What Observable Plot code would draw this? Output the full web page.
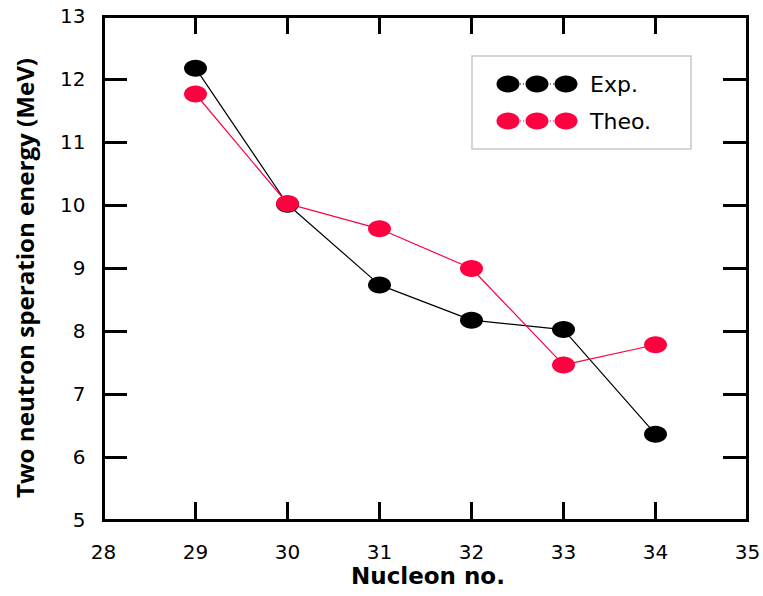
<!DOCTYPE html>
<html><head><meta charset="utf-8">
<script src="https://cdn.jsdelivr.net/npm/d3@7"></script>
<script src="https://cdn.jsdelivr.net/npm/@observablehq/plot@0.6"></script>
<style>body{margin:0;background:#fff} #chart{width:763px;height:596px}</style>
</head><body><div id="chart"></div>
<script>
const nucleon = [29, 30, 31, 32, 33, 34];
const expValues = [12.18, 10.02, 8.74, 8.18, 8.03, 6.37];
const theoValues = [11.77, 10.03, 9.63, 9.00, 7.47, 7.79];
const xTicks = [28, 29, 30, 31, 32, 33, 34, 35];
const yTicks = [5, 6, 7, 8, 9, 10, 11, 12, 13];
const seriesNames = ["Exp.", "Theo."];
const seriesColors = ["#000000", "#ff0040"];
const xLabel = "Nucleon no.";
const yLabel = "Two neutron speration energy (MeV)";

const expRows = nucleon.map((n, i) => ({n, v: expValues[i]}));
const theoRows = nucleon.map((n, i) => ({n, v: theoValues[i]}));

const W = 763, H = 596, ML = 103, MR = 16, MT = 16, MB = 76;
const innerW = W - ML - MR, innerH = H - MT - MB;
const xTickLen = 18, yTickLen = 24;

const RX = 11.5, RY = 8.5, K = 0.5523;
function drawEllipse(ctx, cx, cy) {
  ctx.moveTo(cx + RX, cy);
  ctx.bezierCurveTo(cx + RX, cy + RY * K, cx + RX * K, cy + RY, cx, cy + RY);
  ctx.bezierCurveTo(cx - RX * K, cy + RY, cx - RX, cy + RY * K, cx - RX, cy);
  ctx.bezierCurveTo(cx - RX, cy - RY * K, cx - RX * K, cy - RY, cx, cy - RY);
  ctx.bezierCurveTo(cx + RX * K, cy - RY, cx + RX, cy - RY * K, cx + RX, cy);
  ctx.closePath();
}
const ellipse = {draw(ctx) { drawEllipse(ctx, 0, 0); }};
const intFmt = d3.format("d");

const plot = Plot.plot({
  width: W,
  height: H,
  marginLeft: ML,
  marginRight: MR,
  marginTop: MT,
  marginBottom: MB,
  style: {fontFamily: "DejaVu Sans", fontSize: "20px", color: "#000", background: "#fff"},
  x: {domain: [28, 35]},
  y: {domain: [5, 13]},
  marks: [
    Plot.tickX(xTicks, {x: d => d, stroke: "#000", strokeWidth: 3, insetTop: innerH - xTickLen}),
    Plot.tickX(xTicks, {x: d => d, stroke: "#000", strokeWidth: 3, insetBottom: innerH - xTickLen}),
    Plot.tickY(yTicks, {y: d => d, stroke: "#000", strokeWidth: 3, insetRight: innerW - yTickLen}),
    Plot.tickY(yTicks, {y: d => d, stroke: "#000", strokeWidth: 3, insetLeft: innerW - yTickLen}),
    Plot.line(expRows, {x: "n", y: "v", stroke: seriesColors[0], strokeWidth: 1.2}),
    Plot.line(theoRows, {x: "n", y: "v", stroke: seriesColors[1], strokeWidth: 1.2}),
    Plot.dot(expRows, {x: "n", y: "v", symbol: ellipse, fill: seriesColors[0], stroke: "none"}),
    Plot.dot(theoRows, {x: "n", y: "v", symbol: ellipse, fill: seriesColors[1], stroke: "none"}),
    Plot.axisX(xTicks, {anchor: "bottom", tickSize: 0, tickPadding: 24, label: null, fontSize: 20, tickFormat: intFmt}),
    Plot.axisY(yTicks, {anchor: "left", tickSize: 0, tickPadding: 18, label: null, fontSize: 20, tickFormat: intFmt}),
    Plot.frame({strokeWidth: 3})
  ]
});
document.getElementById("chart").appendChild(plot);

const svg = d3.select(plot);
svg.append("text")
  .attr("x", 428).attr("y", 584)
  .attr("text-anchor", "middle")
  .attr("font-family", "DejaVu Sans").attr("font-weight", "bold").attr("font-size", 23)
  .attr("fill", "#000")
  .text(xLabel);
svg.append("text")
  .attr("transform", "translate(34,278) rotate(-90)")
  .attr("text-anchor", "middle")
  .attr("font-family", "'Liberation Sans Narrow', 'Open Sans', sans-serif").attr("font-weight", "bold").attr("font-size", 23)
  .attr("textLength", 440).attr("lengthAdjust", "spacingAndGlyphs")
  .attr("fill", "#000")
  .text(yLabel);

const lg = svg.append("g").attr("text-anchor", "start");
lg.append("rect").attr("x", 472).attr("y", 56).attr("width", 219).attr("height", 93)
  .attr("fill", "#fff").attr("stroke", "#c8c8c8").attr("stroke-width", 1.5);
seriesNames.forEach((name, i) => {
  const cy = 84 + i * 37;
  lg.append("line").attr("x1", 508).attr("x2", 566).attr("y1", cy).attr("y2", cy)
    .attr("stroke", seriesColors[i]).attr("stroke-width", 1).attr("stroke-dasharray", "1,2");
  [508, 537, 566].forEach(cx => {
    const p = d3.path(); drawEllipse(p, cx, cy);
    lg.append("path").attr("d", p.toString()).attr("fill", seriesColors[i]);
  });
  lg.append("text").attr("x", 590).attr("y", cy).attr("dy", "0.36em")
    .attr("text-anchor", "start")
    .attr("font-family", "DejaVu Sans").attr("font-size", 22).attr("fill", "#000")
    .text(name);
});
</script></body></html>
